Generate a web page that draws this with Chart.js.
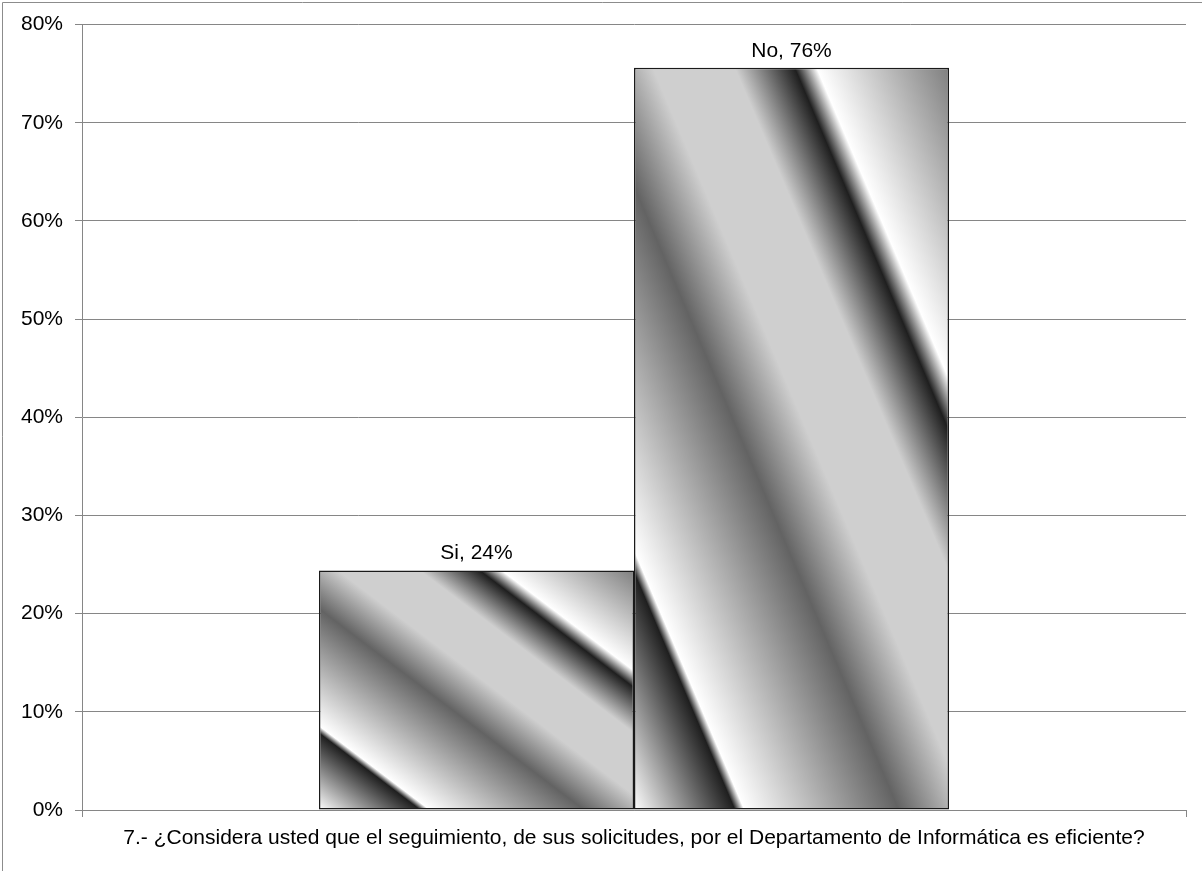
<!DOCTYPE html>
<html>
<head>
<meta charset="utf-8">
<title>Seguimiento de solicitudes</title>
<script src="https://cdn.jsdelivr.net/npm/chart.js@4.4.1/dist/chart.umd.min.js"></script>
<style>
  html, body { margin: 0; padding: 0; background: #ffffff; }
  #wrap { position: relative; width: 1202px; height: 871px; }
</style>
</head>
<body>
<div id="wrap"><canvas id="chart" width="1202" height="871"></canvas></div>
<script>
// Survey question shown as the single category on the x axis
const categories = ['7.- ¿Considera usted que el seguimiento, de sus solicitudes, por el Departamento de Informática es eficiente?'];
// Answer series (percent of respondents)
const seriesNames = ['Si', 'No'];
const siValues = [24.4];
const noValues = [75.6];
// Value axis ticks (percent)
const yTicks = [0, 10, 20, 30, 40, 50, 60, 70, 80];

const FONT = "'Liberation Sans', Arial, sans-serif";
const FONT_SIZE = 21;
const AXIS_GRAY = '#868686';
const BAR_EDGE = '#1a1a1a';

// Chrome-style metallic stops, laid out diagonally across each bar
const chromeStops = [
  [0.000, '#ffffff'],
  [0.160, '#1f1f1f'],
  [0.175, '#ffffff'],
  [0.420, '#636363'],
  [0.530, '#cfcfcf'],
  [0.660, '#cfcfcf'],
  [0.755, '#1f1f1f'],
  [0.790, '#ffffff'],
  [1.000, '#7f7f7f']
];

// Gradient whose bands run parallel to the bar's diagonal (top-left to bottom-right),
// so it stretches with the bar like a shape-scaled fill.
function chromeGradient(ctx, left, top, w, h) {
  const bottom = top + h;
  const d2 = w * w + h * h;
  const x1 = left + 2 * w * h * h / d2;
  const y1 = bottom - 2 * w * w * h / d2;
  const g = ctx.createLinearGradient(left, bottom, x1, y1);
  chromeStops.forEach(([o, c]) => g.addColorStop(o, c));
  return g;
}

const chromeFill = {
  id: 'chromeFill',
  beforeDatasetsDraw(chart) {
    const ctx = chart.ctx;
    chart.data.datasets.forEach((ds, i) => {
      const meta = chart.getDatasetMeta(i);
      meta.data.forEach(el => {
        const p = el.getProps(['x', 'y', 'base', 'width'], true);
        const left = p.x - p.width / 2;
        const top = Math.min(p.y, p.base);
        const h = Math.abs(p.base - p.y);
        el.options.backgroundColor = chromeGradient(ctx, left, top, p.width, h);
        el.options.borderColor = BAR_EDGE;
      });
    });
  }
};

// "Series, value%" labels above each bar
const barLabels = {
  id: 'barLabels',
  afterDatasetsDraw(chart) {
    const ctx = chart.ctx;
    ctx.save();
    ctx.font = FONT_SIZE + 'px ' + FONT;
    ctx.fillStyle = '#000000';
    ctx.textAlign = 'center';
    ctx.textBaseline = 'alphabetic';
    chart.data.datasets.forEach((ds, i) => {
      const meta = chart.getDatasetMeta(i);
      meta.data.forEach((el, j) => {
        const v = ds.data[j];
        ctx.fillText(ds.label + ', ' + Math.round(v) + '%', el.x, el.y - 11);
      });
    });
    ctx.restore();
  }
};

// Outer chart frame (top and left edges)
const chartFrame = {
  id: 'chartFrame',
  beforeDraw(chart) {
    const ctx = chart.ctx;
    ctx.save();
    ctx.strokeStyle = '#8c8c8c';
    ctx.lineWidth = 1;
    ctx.beginPath();
    ctx.moveTo(2.5, chart.height);
    ctx.lineTo(2.5, 2.5);
    ctx.lineTo(chart.width, 2.5);
    ctx.stroke();
    ctx.restore();
  }
};

const barStyle = {
  backgroundColor: () => '#cfcfcf',
  borderColor: () => BAR_EDGE,
  borderWidth: 1.5,
  borderSkipped: false,
  categoryPercentage: 630 / 1104,
  barPercentage: 1
};

new Chart(document.getElementById('chart'), {
  type: 'bar',
  data: {
    labels: categories,
    datasets: [
      Object.assign({ label: seriesNames[0], data: siValues }, barStyle),
      Object.assign({ label: seriesNames[1], data: noValues }, barStyle)
    ]
  },
  options: {
    responsive: false,
    animation: false,
    events: [],
    layout: { padding: { left: 0, top: 22, right: 16, bottom: 0 } },
    plugins: {
      colors: { enabled: false },
      legend: { display: false },
      tooltip: { enabled: false },
      title: { display: false }
    },
    scales: {
      x: {
        type: 'category',
        offset: true,
        afterFit(scale) { scale.height = 61; },
        grid: {
          offset: true,
          drawOnChartArea: false,
          drawTicks: true,
          tickLength: 7,
          color: AXIS_GRAY,
          lineWidth: 1
        },
        border: { display: true, color: AXIS_GRAY, width: 1 },
        ticks: {
          color: '#000000',
          font: { family: FONT, size: FONT_SIZE },
          padding: 9,
          maxRotation: 0,
          minRotation: 0,
          autoSkip: false
        }
      },
      y: {
        min: yTicks[0],
        max: yTicks[yTicks.length - 1],
        afterFit(scale) { scale.width = 82; },
        afterBuildTicks(scale) { scale.ticks = yTicks.map(v => ({ value: v })); },
        grid: {
          color: AXIS_GRAY,
          lineWidth: 1,
          drawTicks: true,
          tickLength: 7
        },
        border: { display: true, color: AXIS_GRAY, width: 1 },
        ticks: {
          color: '#000000',
          font: { family: FONT, size: FONT_SIZE },
          padding: 12,
          callback: v => v + '%'
        }
      }
    }
  },
  plugins: [chartFrame, chromeFill, barLabels]
});
</script>
</body>
</html>
